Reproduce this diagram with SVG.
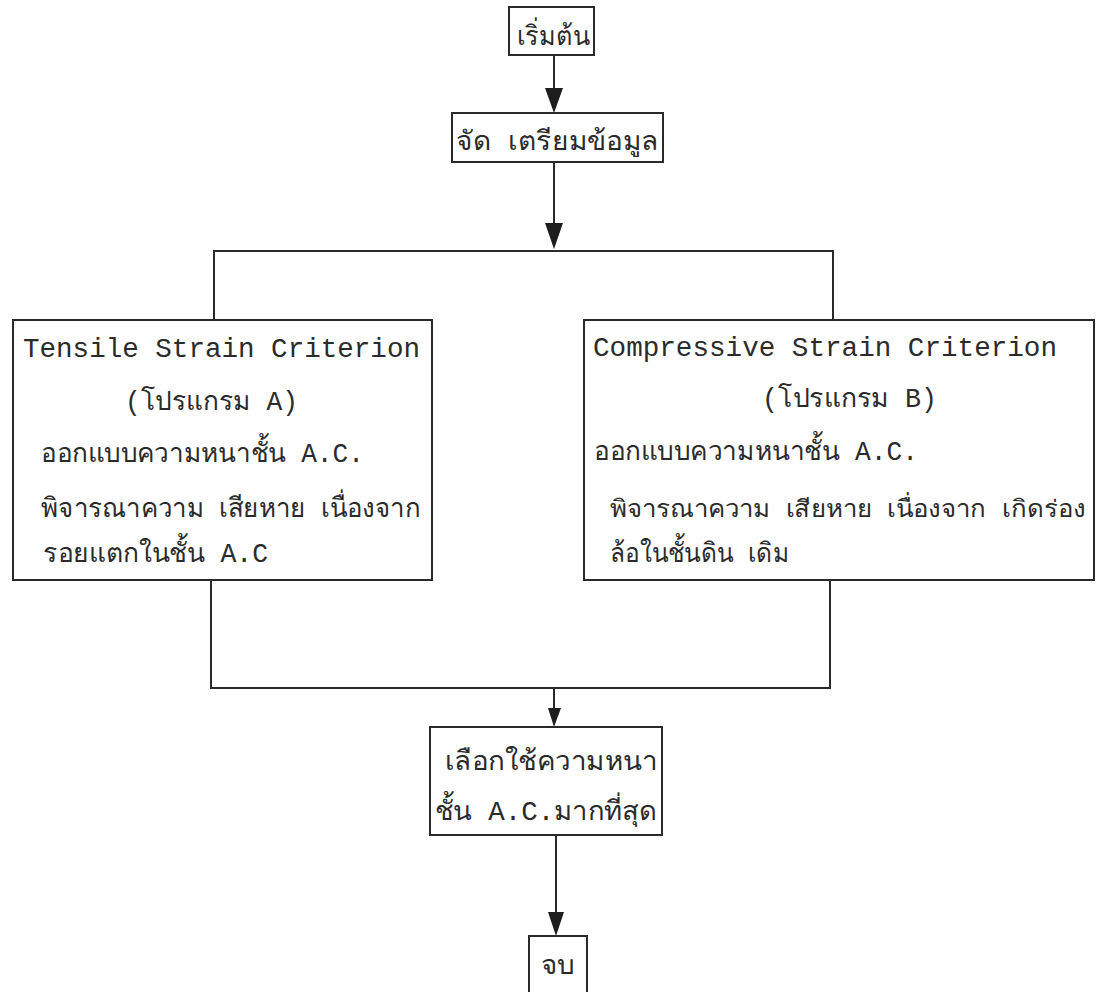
<svg xmlns="http://www.w3.org/2000/svg" width="1097" height="992" viewBox="0 0 1097 992">
  <defs>
    <style>
      .box { fill: #ffffff; stroke: #2a2a2a; stroke-width: 2; }
      .line { fill: none; stroke: #2a2a2a; stroke-width: 2; }
      .head { fill: #1e1e1e; stroke: none; }
      .t { font-family: "Liberation Mono", "DejaVu Sans Mono", "Noto Sans", monospace; font-size: 27px; fill: #2b2b2b; }
      .tn { font-size: 24px; }
    </style>
  </defs>
  <rect width="1097" height="992" fill="#ffffff"/>

  <!-- connectors: straight runs plus filled triangular heads -->
  <g id="connectors">
    <path class="line" d="M554,55 V96"/>
    <path class="head" d="M545,88 L563,88 L554,113 Z"/>
    <path class="line" d="M554,162 V232"/>
    <path class="head" d="M545,223 L563,223 L554,249 Z"/>
    <path class="line" d="M214,320 V251 H833 V320"/>
    <path class="line" d="M211,580 V688 H830 V580"/>
    <path class="line" d="M554,688 V712"/>
    <path class="head" d="M548,708 L561,708 L554,727 Z"/>
    <path class="line" d="M556,835 V918"/>
    <path class="head" d="M548,912 L564,912 L556,936 Z"/>
  </g>

  <g id="start">
    <rect class="box" x="509" y="7" width="85" height="48"/>
    <text class="t" x="517" y="45" textLength="73" lengthAdjust="spacingAndGlyphs">เริ่มต้น</text>
  </g>

  <g id="prepare">
    <rect class="box" x="452" y="113" width="211" height="49"/>
    <text class="t" x="456" y="150" textLength="203" lengthAdjust="spacingAndGlyphs">จัด เตรียมข้อมูล</text>
  </g>

  <g id="program-a">
    <rect class="box" x="13" y="320" width="419" height="260"/>
    <text class="t" x="23" y="357" textLength="397" lengthAdjust="spacingAndGlyphs">Tensile Strain Criterion</text>
    <text class="t" x="125" y="410" textLength="173" lengthAdjust="spacingAndGlyphs">(โปรแกรม A)</text>
    <text class="t" x="41" y="462" textLength="323" lengthAdjust="spacingAndGlyphs">ออกแบบความหนาชั้น A.C.</text>
    <text class="t" x="41" y="517" textLength="379" lengthAdjust="spacingAndGlyphs">พิจารณาความ เสียหาย เนื่องจาก</text>
    <text class="t" x="43" y="562" textLength="225" lengthAdjust="spacingAndGlyphs">รอยแตกในชั้น A.C</text>
  </g>

  <g id="program-b">
    <rect class="box" x="584" y="320" width="510" height="260"/>
    <text class="t" x="593" y="356" textLength="464" lengthAdjust="spacingAndGlyphs">Compressive Strain Criterion</text>
    <text class="t" x="762" y="407" textLength="175" lengthAdjust="spacingAndGlyphs">(โปรแกรม B)</text>
    <text class="t" x="594" y="460" textLength="324" lengthAdjust="spacingAndGlyphs">ออกแบบความหนาชั้น A.C.</text>
    <text class="t tn" x="610" y="517" textLength="476" lengthAdjust="spacingAndGlyphs">พิจารณาความ เสียหาย เนื่องจาก เกิดร่อง</text>
    <text class="t" x="610" y="562" textLength="179" lengthAdjust="spacingAndGlyphs">ล้อในชั้นดิน เดิม</text>
  </g>

  <g id="select">
    <rect class="box" x="430" y="727" width="232" height="108"/>
    <text class="t" x="445" y="770" textLength="212" lengthAdjust="spacingAndGlyphs">เลือกใช้ความหนา</text>
    <text class="t" x="435" y="820" textLength="222" lengthAdjust="spacingAndGlyphs">ชั้น A.C.มากที่สุด</text>
  </g>

  <g id="end">
    <rect class="box" x="529" y="936" width="58" height="70"/>
    <text class="t" x="541" y="974" textLength="34" lengthAdjust="spacingAndGlyphs">จบ</text>
  </g>
</svg>
